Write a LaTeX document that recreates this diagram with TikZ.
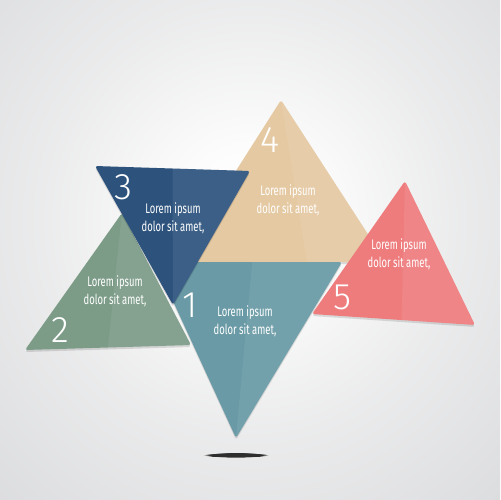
\documentclass[tikz,border=0pt]{standalone}
\usepackage{fontspec}
\usetikzlibrary{fadings,calc}
\newfontfamily\lblfont{Fira Sans}[FakeStretch=0.68]
\newfontfamily\numfont{Fira Sans Light}
\definecolor{bggray}{HTML}{D2D3D5}
\definecolor{cblue}{HTML}{2D537D}
\definecolor{ctan}{HTML}{E5C9A2}
\definecolor{cpink}{HTML}{EE7C7D}
\definecolor{cteal}{HTML}{699AA5}
\definecolor{cgreen}{HTML}{7C9C88}
\pgfdeclareradialshading{bgshade}{\pgfpoint{0bp}{0bp}}{color(0bp)=(white); color(6bp)=(white!94!bggray); color(18bp)=(white!55!bggray); color(32bp)=(white!22!bggray); color(45bp)=(bggray); color(70bp)=(bggray)}
\tikzset{
  tri/.style={rounded corners=1.5},
  shd/.style={black, opacity=0.12, rounded corners=1.5},
  facet/.style={fill=white, opacity=0.07},
  lbl/.style={text=white, font=\lblfont\fontsize{7.9}{10.2}\selectfont, align=center, inner sep=0pt},
  num/.style={text=white, font=\numfont\fontsize{21}{21}\selectfont, inner sep=0pt}
}
\begin{document}
\begin{tikzpicture}[x=0.02cm,y=-0.02cm]
\useasboundingbox (0,0) rectangle (500,500);
\begin{scope}
\clip (0,0) rectangle (500,500);
\fill[bggray] (0,0) rectangle (500,500);
\path[shading=bgshade] (-40,-80) rectangle (540,520);
\end{scope}
% floor shadow
\fill[black, opacity=0.8, path fading=circle with fuzzy edge 20 percent] (236,455) ellipse (33 and 2.6);
% coordinates
\coordinate (G1) at (122,213); \coordinate (G2) at (25,350); \coordinate (G3) at (191,345);
\coordinate (T1) at (281,100); \coordinate (T2) at (178,262); \coordinate (T3) at (386,262);
\coordinate (P1) at (405,181); \coordinate (P2) at (312,314); \coordinate (P3) at (475,325);
\coordinate (Q1) at (155,262); \coordinate (Q2) at (342,262); \coordinate (Q3) at (236,438);
\coordinate (B1) at (95,166); \coordinate (B2) at (250,171); \coordinate (B3) at (173,305);
% green
\fill[shd] ([yshift=-0.04cm]G1) -- ([yshift=-0.04cm]G2) -- ([yshift=-0.04cm]G3) -- cycle;
\fill[cgreen, tri] (G1) -- (G2) -- (G3) -- cycle;
\fill[facet] (G1) -- ($(G2)!0.5!(G3)$) -- (G3) -- cycle;
% tan
\fill[shd] ([yshift=-0.04cm]T1) -- ([yshift=-0.04cm]T2) -- ([yshift=-0.04cm]T3) -- cycle;
\fill[ctan, tri] (T1) -- (T2) -- (T3) -- cycle;
\fill[facet] (T1) -- ($(T2)!0.62!(T3)$) -- (T3) -- cycle;
% pink
\fill[shd] ([yshift=-0.04cm]P1) -- ([yshift=-0.04cm]P2) -- ([yshift=-0.04cm]P3) -- cycle;
\fill[cpink, tri] (P1) -- (P2) -- (P3) -- cycle;
\fill[facet] (P1) -- ($(P2)!0.55!(P3)$) -- (P3) -- cycle;
% teal
\fill[shd] ([yshift=-0.04cm]Q1) -- ([yshift=-0.04cm]Q2) -- ([yshift=-0.04cm]Q3) -- cycle;
\fill[cteal, tri] (Q1) -- (Q2) -- (Q3) -- cycle;
\fill[facet] (Q3) -- ($(Q1)!0.52!(Q2)$) -- (Q2) -- cycle;
% blue
\fill[shd] ([yshift=-0.04cm]B1) -- ([yshift=-0.04cm]B2) -- ([yshift=-0.04cm]B3) -- cycle;
\fill[cblue, tri] (B1) -- (B2) -- (B3) -- cycle;
\fill[facet] (B3) -- ($(B1)!0.5!(B2)$) -- (B2) -- cycle;
% numbers
\node[num] (n3) at (123,187) {3};
\node[num] (n4) at (270,140) {4};
\node[num] (n2) at (60,330) {2};
\node[num] (n1) at (190,305) {1};
\node[num] (n5) at (342,297) {5};
% labels
\node[lbl] (l3) at (173,218) {Lorem ipsum\\dolor sit amet,};
\node[lbl] (l4) at (288,200) {Lorem ipsum\\dolor sit amet,};
\node[lbl] (l5) at (399,254) {Lorem ipsum\\dolor sit amet,};
\node[lbl] (l1) at (245,321) {Lorem ipsum\\dolor sit amet,};
\node[lbl] (l2) at (115,291) {Lorem ipsum\\dolor sit amet,};
\end{tikzpicture}
\end{document}
